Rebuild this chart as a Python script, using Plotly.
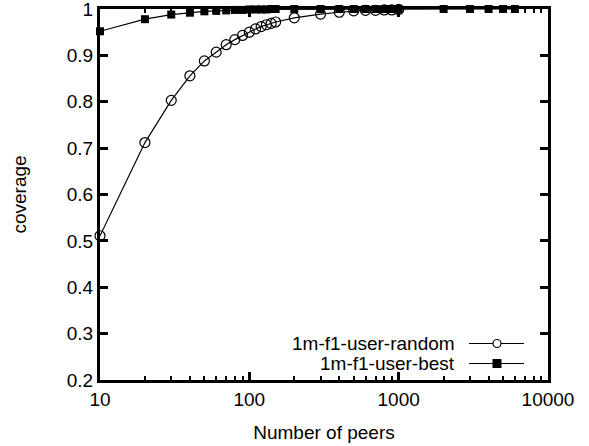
import plotly.graph_objects as go

# ---- data ----
peers_random = [10, 20, 30, 40, 50, 60, 70, 80, 90, 100, 110, 120, 130, 140, 150,
                200, 300, 400, 500, 600, 700, 800, 900, 1000]
cov_random = [0.511, 0.712, 0.803, 0.856, 0.888, 0.907, 0.923, 0.934, 0.943, 0.950,
              0.957, 0.962, 0.966, 0.969, 0.972, 0.981, 0.989, 0.993, 0.996, 0.997,
              0.997, 0.998, 0.998, 0.999]
peers_best = [10, 20, 30, 40, 50, 60, 70, 80, 90, 100, 110, 120, 130, 140, 150,
              200, 300, 400, 500, 600, 700, 800, 900, 1000, 2000, 3000, 4000, 5000, 6000]
cov_best = [0.952, 0.978, 0.988, 0.992, 0.995, 0.996, 0.997, 0.998, 0.998, 0.999,
            0.999, 0.999, 0.999, 1.0, 1.0, 1.0, 1.0, 1.0, 1.0, 1.0,
            1.0, 1.0, 1.0, 1.0, 1.0, 1.0, 1.0, 1.0, 1.0]
series_names = ["1m-f1-user-random", "1m-f1-user-best"]
x_tickvals = [10, 100, 1000, 10000]
x_ticktext = ["10", "100", "1000", "10000"]
y_tickvals = [0.2, 0.3, 0.4, 0.5, 0.6, 0.7, 0.8, 0.9, 1.0]
y_ticktext = ["0.2", "0.3", "0.4", "0.5", "0.6", "0.7", "0.8", "0.9", "1"]

W, H = 589, 446
L, R, T, B = 100, 41, 9, 66
FONT = "Liberation Sans, Arial, sans-serif"
FS = 19

fig = go.Figure()
fig.add_trace(go.Scatter(
    x=peers_random, y=cov_random, mode="lines+markers", name=series_names[0],
    line=dict(color="black", width=1.2),
    marker=dict(symbol="circle-open", size=10, color="black", line=dict(width=1.2)),
    cliponaxis=False, showlegend=False))
fig.add_trace(go.Scatter(
    x=peers_best, y=cov_best, mode="lines+markers", name=series_names[1],
    line=dict(color="black", width=1.2),
    marker=dict(symbol="square", size=8, color="black"),
    cliponaxis=False, showlegend=False))

# manual gnuplot-style legend (text right-aligned, sample on the right)
pw = W - L - R
ph = H - T - B
def px2x(px):
    return (px - L) / pw
def py2y(py):
    return 1 - (py - T) / ph

rows = [(343.5, "circle"), (363.5, "square")]
for (py, kind), name in zip(rows, series_names):
    fig.add_annotation(x=px2x(457), y=py2y(py), xref="paper", yref="paper",
                       text=name, showarrow=False, xanchor="right", yanchor="middle",
                       font=dict(family=FONT, size=FS, color="black"))
    fig.add_shape(type="line", xref="paper", yref="paper",
                  x0=px2x(469), x1=px2x(524), y0=py2y(py), y1=py2y(py),
                  line=dict(color="black", width=1.2))
    if kind == "circle":
        fig.add_shape(type="circle", xref="paper", yref="paper",
                      x0=px2x(497 - 4), x1=px2x(497 + 4), y0=py2y(py + 4), y1=py2y(py - 4),
                      line=dict(color="black", width=1.2), fillcolor="white")
    else:
        fig.add_shape(type="rect", xref="paper", yref="paper",
                      x0=px2x(497 - 4.5), x1=px2x(497 + 4.5), y0=py2y(py + 4.5), y1=py2y(py - 4.5),
                      line=dict(color="black", width=0), fillcolor="black")

fig.update_layout(
    width=W, height=H,
    margin=dict(l=L, r=R, t=T, b=B),
    paper_bgcolor="white", plot_bgcolor="white",
    font=dict(family=FONT, size=FS, color="black"),
    xaxis=dict(type="log", range=[1, 4], tickvals=x_tickvals, ticktext=x_ticktext,
               automargin=False, ticklabeloverflow="allow",
               ticks="inside", ticklen=8, tickwidth=2.5, tickcolor="black",
               showline=True, linecolor="black", linewidth=3, mirror="allticks",
               showgrid=False, zeroline=False,
               minor=dict(ticks="inside", ticklen=4, tickwidth=2, tickcolor="black",
                          dtick="D1", showgrid=False),
               title=dict(text="Number of peers", standoff=17,
                          font=dict(family=FONT, size=FS))),
    yaxis=dict(range=[0.2, 1.0], tickvals=y_tickvals, ticktext=y_ticktext,
               automargin=False, ticklabeloverflow="allow",
               ticks="inside", ticklen=8, tickwidth=2.5, tickcolor="black",
               showline=True, linecolor="black", linewidth=3, mirror="allticks",
               showgrid=False, zeroline=False,
               title=dict(text="coverage", standoff=36,
                          font=dict(family=FONT, size=FS))),
)

fig.write_html("out.html", config={"displayModeBar": False},
               post_script="document.body.style.margin='0';")
